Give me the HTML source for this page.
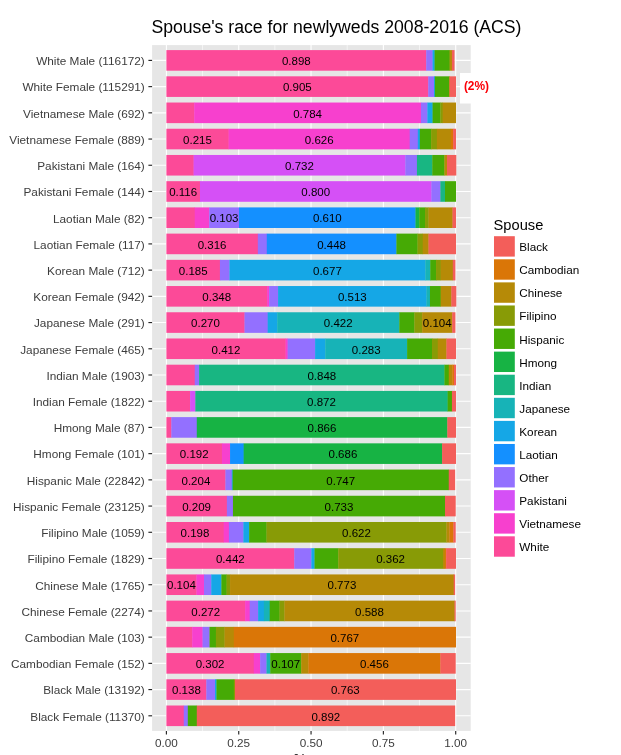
<!DOCTYPE html>
<html lang="en"><head><meta charset="utf-8"><title>Spouse's race for newlyweds 2008-2016 (ACS)</title>
<style>
html,body{margin:0;padding:0;background:#fff;}
body{width:621px;height:755px;overflow:hidden;}
svg{display:block;will-change:transform;font-family:"Liberation Sans",Arial,Helvetica,sans-serif;}
.yl{font-size:11.8px;fill:#3C3C3C;text-anchor:end;}
.xl{font-size:11.73px;fill:#3C3C3C;text-anchor:middle;}
.bl{font-size:11.5px;fill:#000;text-anchor:middle;}
.lg{font-size:11.73px;fill:#000;}
</style></head><body>
<svg width="621" height="755" viewBox="0 0 621 755">
<rect x="0" y="0" width="621" height="755" fill="#fff"/>
<text x="151.4" y="32.6" font-size="17.6" fill="#000" textLength="370.1" lengthAdjust="spacingAndGlyphs">Spouse's race for newlyweds 2008-2016 (ACS)</text>
<rect x="152.1" y="45.1" width="318.6" height="685.8" fill="#E6E6E6"/>
<g stroke="#fff" fill="none">
<line x1="202.56" y1="45.1" x2="202.56" y2="730.9" stroke-width="0.6"/>
<line x1="274.89" y1="45.1" x2="274.89" y2="730.9" stroke-width="0.6"/>
<line x1="347.21" y1="45.1" x2="347.21" y2="730.9" stroke-width="0.6"/>
<line x1="419.54" y1="45.1" x2="419.54" y2="730.9" stroke-width="0.6"/>
<line x1="166.40" y1="45.1" x2="166.40" y2="730.9" stroke-width="1.1"/>
<line x1="238.73" y1="45.1" x2="238.73" y2="730.9" stroke-width="1.1"/>
<line x1="311.05" y1="45.1" x2="311.05" y2="730.9" stroke-width="1.1"/>
<line x1="383.38" y1="45.1" x2="383.38" y2="730.9" stroke-width="1.1"/>
<line x1="455.70" y1="45.1" x2="455.70" y2="730.9" stroke-width="1.1"/>
<line x1="152.1" y1="60.40" x2="470.7" y2="60.40" stroke-width="1.1"/>
<line x1="152.1" y1="86.62" x2="470.7" y2="86.62" stroke-width="1.1"/>
<line x1="152.1" y1="112.83" x2="470.7" y2="112.83" stroke-width="1.1"/>
<line x1="152.1" y1="139.05" x2="470.7" y2="139.05" stroke-width="1.1"/>
<line x1="152.1" y1="165.26" x2="470.7" y2="165.26" stroke-width="1.1"/>
<line x1="152.1" y1="191.48" x2="470.7" y2="191.48" stroke-width="1.1"/>
<line x1="152.1" y1="217.70" x2="470.7" y2="217.70" stroke-width="1.1"/>
<line x1="152.1" y1="243.91" x2="470.7" y2="243.91" stroke-width="1.1"/>
<line x1="152.1" y1="270.13" x2="470.7" y2="270.13" stroke-width="1.1"/>
<line x1="152.1" y1="296.34" x2="470.7" y2="296.34" stroke-width="1.1"/>
<line x1="152.1" y1="322.56" x2="470.7" y2="322.56" stroke-width="1.1"/>
<line x1="152.1" y1="348.78" x2="470.7" y2="348.78" stroke-width="1.1"/>
<line x1="152.1" y1="374.99" x2="470.7" y2="374.99" stroke-width="1.1"/>
<line x1="152.1" y1="401.21" x2="470.7" y2="401.21" stroke-width="1.1"/>
<line x1="152.1" y1="427.42" x2="470.7" y2="427.42" stroke-width="1.1"/>
<line x1="152.1" y1="453.64" x2="470.7" y2="453.64" stroke-width="1.1"/>
<line x1="152.1" y1="479.86" x2="470.7" y2="479.86" stroke-width="1.1"/>
<line x1="152.1" y1="506.07" x2="470.7" y2="506.07" stroke-width="1.1"/>
<line x1="152.1" y1="532.29" x2="470.7" y2="532.29" stroke-width="1.1"/>
<line x1="152.1" y1="558.50" x2="470.7" y2="558.50" stroke-width="1.1"/>
<line x1="152.1" y1="584.72" x2="470.7" y2="584.72" stroke-width="1.1"/>
<line x1="152.1" y1="610.94" x2="470.7" y2="610.94" stroke-width="1.1"/>
<line x1="152.1" y1="637.15" x2="470.7" y2="637.15" stroke-width="1.1"/>
<line x1="152.1" y1="663.37" x2="470.7" y2="663.37" stroke-width="1.1"/>
<line x1="152.1" y1="689.58" x2="470.7" y2="689.58" stroke-width="1.1"/>
<line x1="152.1" y1="715.80" x2="470.7" y2="715.80" stroke-width="1.1"/>
</g>
<g>
<rect x="166.40" y="50.10" width="260.09" height="20.60" fill="#FC4A98"/>
<rect x="426.19" y="50.10" width="6.66" height="20.60" fill="#9370FF"/>
<rect x="432.56" y="50.10" width="2.33" height="20.60" fill="#15A7E6"/>
<rect x="434.58" y="50.10" width="15.34" height="20.60" fill="#46AA05"/>
<rect x="449.62" y="50.10" width="2.61" height="20.60" fill="#B68A07"/>
<rect x="451.94" y="50.10" width="2.61" height="20.60" fill="#F35E5A"/>
<rect x="166.40" y="76.32" width="262.12" height="20.60" fill="#FC4A98"/>
<rect x="428.22" y="76.32" width="6.09" height="20.60" fill="#9370FF"/>
<rect x="434.00" y="76.32" width="1.17" height="20.60" fill="#15A7E6"/>
<rect x="434.87" y="76.32" width="14.48" height="20.60" fill="#46AA05"/>
<rect x="449.05" y="76.32" width="0.88" height="20.60" fill="#B68A07"/>
<rect x="449.62" y="76.32" width="6.38" height="20.60" fill="#F35E5A"/>
<rect x="166.40" y="102.53" width="28.07" height="20.60" fill="#FC4A98"/>
<rect x="194.17" y="102.53" width="227.11" height="20.60" fill="#F740CE"/>
<rect x="420.98" y="102.53" width="6.66" height="20.60" fill="#9370FF"/>
<rect x="427.35" y="102.53" width="5.51" height="20.60" fill="#15A7E6"/>
<rect x="432.56" y="102.53" width="8.11" height="20.60" fill="#46AA05"/>
<rect x="440.37" y="102.53" width="2.61" height="20.60" fill="#889B06"/>
<rect x="442.68" y="102.53" width="13.32" height="20.60" fill="#B68A07"/>
<rect x="166.40" y="128.75" width="62.50" height="20.60" fill="#FC4A98"/>
<rect x="228.60" y="128.75" width="181.40" height="20.60" fill="#F740CE"/>
<rect x="409.70" y="128.75" width="8.40" height="20.60" fill="#9370FF"/>
<rect x="417.80" y="128.75" width="2.33" height="20.60" fill="#15A7E6"/>
<rect x="419.83" y="128.75" width="11.58" height="20.60" fill="#46AA05"/>
<rect x="431.11" y="128.75" width="6.09" height="20.60" fill="#889B06"/>
<rect x="436.90" y="128.75" width="14.19" height="20.60" fill="#B68A07"/>
<rect x="450.78" y="128.75" width="2.61" height="20.60" fill="#DA7607"/>
<rect x="453.10" y="128.75" width="2.90" height="20.60" fill="#F35E5A"/>
<rect x="166.40" y="154.96" width="27.49" height="20.60" fill="#FC4A98"/>
<rect x="193.59" y="154.96" width="212.07" height="20.60" fill="#D550F6"/>
<rect x="405.36" y="154.96" width="11.87" height="20.60" fill="#9370FF"/>
<rect x="416.93" y="154.96" width="15.63" height="20.60" fill="#18B682"/>
<rect x="432.27" y="154.96" width="12.45" height="20.60" fill="#46AA05"/>
<rect x="444.42" y="154.96" width="2.90" height="20.60" fill="#B68A07"/>
<rect x="447.02" y="154.96" width="9.27" height="20.60" fill="#F35E5A"/>
<rect x="166.40" y="181.18" width="33.86" height="20.60" fill="#FC4A98"/>
<rect x="199.96" y="181.18" width="231.74" height="20.60" fill="#D550F6"/>
<rect x="431.40" y="181.18" width="9.27" height="20.60" fill="#9370FF"/>
<rect x="440.37" y="181.18" width="4.93" height="20.60" fill="#18B682"/>
<rect x="445.00" y="181.18" width="11.00" height="20.60" fill="#46AA05"/>
<rect x="166.40" y="207.40" width="28.65" height="20.60" fill="#FC4A98"/>
<rect x="194.75" y="207.40" width="14.77" height="20.60" fill="#F740CE"/>
<rect x="209.22" y="207.40" width="30.10" height="20.60" fill="#9370FF"/>
<rect x="239.01" y="207.40" width="176.77" height="20.60" fill="#1490FF"/>
<rect x="415.49" y="207.40" width="4.06" height="20.60" fill="#17B344"/>
<rect x="419.25" y="207.40" width="6.09" height="20.60" fill="#46AA05"/>
<rect x="425.03" y="207.40" width="3.77" height="20.60" fill="#889B06"/>
<rect x="428.51" y="207.40" width="24.31" height="20.60" fill="#B68A07"/>
<rect x="452.52" y="207.40" width="3.48" height="20.60" fill="#F35E5A"/>
<rect x="166.40" y="233.61" width="91.72" height="20.60" fill="#FC4A98"/>
<rect x="257.82" y="233.61" width="9.27" height="20.60" fill="#9370FF"/>
<rect x="266.79" y="233.61" width="129.91" height="20.60" fill="#1490FF"/>
<rect x="396.39" y="233.61" width="21.42" height="20.60" fill="#46AA05"/>
<rect x="417.51" y="233.61" width="5.51" height="20.60" fill="#889B06"/>
<rect x="422.72" y="233.61" width="6.09" height="20.60" fill="#B68A07"/>
<rect x="428.51" y="233.61" width="27.49" height="20.60" fill="#F35E5A"/>
<rect x="166.40" y="259.83" width="53.82" height="20.60" fill="#FC4A98"/>
<rect x="219.92" y="259.83" width="9.85" height="20.60" fill="#9370FF"/>
<rect x="229.47" y="259.83" width="196.16" height="20.60" fill="#15A7E6"/>
<rect x="425.32" y="259.83" width="5.22" height="20.60" fill="#17B3B7"/>
<rect x="430.24" y="259.83" width="6.09" height="20.60" fill="#46AA05"/>
<rect x="436.03" y="259.83" width="4.93" height="20.60" fill="#889B06"/>
<rect x="440.66" y="259.83" width="12.45" height="20.60" fill="#B68A07"/>
<rect x="452.81" y="259.83" width="2.61" height="20.60" fill="#F35E5A"/>
<rect x="166.40" y="286.04" width="100.98" height="20.60" fill="#FC4A98"/>
<rect x="267.08" y="286.04" width="2.33" height="20.60" fill="#F740CE"/>
<rect x="269.10" y="286.04" width="9.27" height="20.60" fill="#9370FF"/>
<rect x="278.07" y="286.04" width="148.71" height="20.60" fill="#15A7E6"/>
<rect x="426.48" y="286.04" width="3.77" height="20.60" fill="#17B3B7"/>
<rect x="429.95" y="286.04" width="11.00" height="20.60" fill="#46AA05"/>
<rect x="440.66" y="286.04" width="11.00" height="20.60" fill="#B68A07"/>
<rect x="451.36" y="286.04" width="4.93" height="20.60" fill="#F35E5A"/>
<rect x="166.40" y="312.26" width="78.41" height="20.60" fill="#FC4A98"/>
<rect x="244.51" y="312.26" width="23.44" height="20.60" fill="#9370FF"/>
<rect x="267.66" y="312.26" width="9.85" height="20.60" fill="#15A7E6"/>
<rect x="277.20" y="312.26" width="122.38" height="20.60" fill="#17B3B7"/>
<rect x="399.29" y="312.26" width="15.34" height="20.60" fill="#46AA05"/>
<rect x="414.33" y="312.26" width="8.11" height="20.60" fill="#889B06"/>
<rect x="422.14" y="312.26" width="30.39" height="20.60" fill="#B68A07"/>
<rect x="452.23" y="312.26" width="3.19" height="20.60" fill="#F35E5A"/>
<rect x="166.40" y="338.48" width="119.49" height="20.60" fill="#FC4A98"/>
<rect x="285.59" y="338.48" width="2.33" height="20.60" fill="#F740CE"/>
<rect x="287.62" y="338.48" width="27.78" height="20.60" fill="#9370FF"/>
<rect x="315.10" y="338.48" width="10.43" height="20.60" fill="#15A7E6"/>
<rect x="325.23" y="338.48" width="82.17" height="20.60" fill="#17B3B7"/>
<rect x="407.10" y="338.48" width="25.18" height="20.60" fill="#46AA05"/>
<rect x="431.98" y="338.48" width="6.09" height="20.60" fill="#889B06"/>
<rect x="437.76" y="338.48" width="8.98" height="20.60" fill="#B68A07"/>
<rect x="446.44" y="338.48" width="9.56" height="20.60" fill="#F35E5A"/>
<rect x="166.40" y="364.69" width="28.65" height="20.60" fill="#FC4A98"/>
<rect x="194.75" y="364.69" width="4.64" height="20.60" fill="#9370FF"/>
<rect x="199.09" y="364.69" width="245.63" height="20.60" fill="#18B682"/>
<rect x="444.42" y="364.69" width="4.64" height="20.60" fill="#46AA05"/>
<rect x="448.76" y="364.69" width="3.77" height="20.60" fill="#B68A07"/>
<rect x="452.23" y="364.69" width="2.04" height="20.60" fill="#DA7607"/>
<rect x="453.96" y="364.69" width="2.04" height="20.60" fill="#F35E5A"/>
<rect x="166.40" y="390.91" width="24.02" height="20.60" fill="#FC4A98"/>
<rect x="190.12" y="390.91" width="5.51" height="20.60" fill="#D550F6"/>
<rect x="195.33" y="390.91" width="252.57" height="20.60" fill="#18B682"/>
<rect x="447.60" y="390.91" width="4.64" height="20.60" fill="#46AA05"/>
<rect x="451.94" y="390.91" width="4.06" height="20.60" fill="#F35E5A"/>
<rect x="166.40" y="417.12" width="5.22" height="20.60" fill="#FC4A98"/>
<rect x="171.32" y="417.12" width="25.76" height="20.60" fill="#9370FF"/>
<rect x="196.78" y="417.12" width="250.83" height="20.60" fill="#17B344"/>
<rect x="447.31" y="417.12" width="8.69" height="20.60" fill="#F35E5A"/>
<rect x="166.40" y="443.34" width="55.85" height="20.60" fill="#FC4A98"/>
<rect x="221.95" y="443.34" width="8.40" height="20.60" fill="#F740CE"/>
<rect x="230.05" y="443.34" width="13.90" height="20.60" fill="#1490FF"/>
<rect x="243.64" y="443.34" width="198.76" height="20.60" fill="#17B344"/>
<rect x="442.10" y="443.34" width="13.90" height="20.60" fill="#F35E5A"/>
<rect x="166.40" y="469.56" width="59.32" height="20.60" fill="#FC4A98"/>
<rect x="225.42" y="469.56" width="6.66" height="20.60" fill="#9370FF"/>
<rect x="231.78" y="469.56" width="1.17" height="20.60" fill="#15A7E6"/>
<rect x="232.65" y="469.56" width="216.41" height="20.60" fill="#46AA05"/>
<rect x="448.76" y="469.56" width="6.38" height="20.60" fill="#F35E5A"/>
<rect x="166.40" y="495.77" width="60.76" height="20.60" fill="#FC4A98"/>
<rect x="226.86" y="495.77" width="6.38" height="20.60" fill="#9370FF"/>
<rect x="232.94" y="495.77" width="212.36" height="20.60" fill="#46AA05"/>
<rect x="445.00" y="495.77" width="10.71" height="20.60" fill="#F35E5A"/>
<rect x="166.40" y="521.99" width="57.58" height="20.60" fill="#FC4A98"/>
<rect x="223.68" y="521.99" width="5.51" height="20.60" fill="#F740CE"/>
<rect x="228.89" y="521.99" width="14.77" height="20.60" fill="#9370FF"/>
<rect x="243.35" y="521.99" width="6.09" height="20.60" fill="#15A7E6"/>
<rect x="249.14" y="521.99" width="17.66" height="20.60" fill="#46AA05"/>
<rect x="266.50" y="521.99" width="180.24" height="20.60" fill="#889B06"/>
<rect x="446.44" y="521.99" width="3.19" height="20.60" fill="#B68A07"/>
<rect x="449.34" y="521.99" width="4.35" height="20.60" fill="#DA7607"/>
<rect x="453.39" y="521.99" width="2.33" height="20.60" fill="#F35E5A"/>
<rect x="166.40" y="548.20" width="128.17" height="20.60" fill="#FC4A98"/>
<rect x="294.27" y="548.20" width="17.37" height="20.60" fill="#9370FF"/>
<rect x="311.34" y="548.20" width="3.48" height="20.60" fill="#15A7E6"/>
<rect x="314.52" y="548.20" width="24.02" height="20.60" fill="#46AA05"/>
<rect x="338.24" y="548.20" width="105.03" height="20.60" fill="#889B06"/>
<rect x="442.97" y="548.20" width="2.04" height="20.60" fill="#B68A07"/>
<rect x="444.71" y="548.20" width="1.75" height="20.60" fill="#DA7607"/>
<rect x="446.15" y="548.20" width="9.85" height="20.60" fill="#F35E5A"/>
<rect x="166.40" y="574.42" width="30.39" height="20.60" fill="#FC4A98"/>
<rect x="196.49" y="574.42" width="7.82" height="20.60" fill="#F740CE"/>
<rect x="204.01" y="574.42" width="7.53" height="20.60" fill="#9370FF"/>
<rect x="211.24" y="574.42" width="10.43" height="20.60" fill="#15A7E6"/>
<rect x="221.37" y="574.42" width="5.51" height="20.60" fill="#46AA05"/>
<rect x="226.57" y="574.42" width="3.77" height="20.60" fill="#889B06"/>
<rect x="230.05" y="574.42" width="223.93" height="20.60" fill="#B68A07"/>
<rect x="453.67" y="574.42" width="1.46" height="20.60" fill="#F35E5A"/>
<rect x="166.40" y="600.64" width="78.99" height="20.60" fill="#FC4A98"/>
<rect x="245.09" y="600.64" width="4.93" height="20.60" fill="#F740CE"/>
<rect x="249.72" y="600.64" width="8.69" height="20.60" fill="#9370FF"/>
<rect x="258.11" y="600.64" width="6.09" height="20.60" fill="#15A7E6"/>
<rect x="263.89" y="600.64" width="6.09" height="20.60" fill="#17B3B7"/>
<rect x="269.68" y="600.64" width="10.14" height="20.60" fill="#46AA05"/>
<rect x="279.52" y="600.64" width="5.22" height="20.60" fill="#889B06"/>
<rect x="284.43" y="600.64" width="170.41" height="20.60" fill="#B68A07"/>
<rect x="454.54" y="600.64" width="1.17" height="20.60" fill="#F35E5A"/>
<rect x="166.40" y="626.85" width="26.05" height="20.60" fill="#FC4A98"/>
<rect x="192.15" y="626.85" width="10.71" height="20.60" fill="#F740CE"/>
<rect x="202.56" y="626.85" width="7.24" height="20.60" fill="#9370FF"/>
<rect x="209.51" y="626.85" width="6.66" height="20.60" fill="#46AA05"/>
<rect x="215.87" y="626.85" width="8.98" height="20.60" fill="#889B06"/>
<rect x="224.55" y="626.85" width="9.56" height="20.60" fill="#B68A07"/>
<rect x="233.81" y="626.85" width="222.19" height="20.60" fill="#DA7607"/>
<rect x="166.40" y="653.07" width="87.67" height="20.60" fill="#FC4A98"/>
<rect x="253.77" y="653.07" width="6.66" height="20.60" fill="#F740CE"/>
<rect x="260.13" y="653.07" width="6.66" height="20.60" fill="#9370FF"/>
<rect x="266.50" y="653.07" width="4.06" height="20.60" fill="#17B3B7"/>
<rect x="270.26" y="653.07" width="31.26" height="20.60" fill="#46AA05"/>
<rect x="301.21" y="653.07" width="7.53" height="20.60" fill="#B68A07"/>
<rect x="308.45" y="653.07" width="132.22" height="20.60" fill="#DA7607"/>
<rect x="440.37" y="653.07" width="15.34" height="20.60" fill="#F35E5A"/>
<rect x="166.40" y="679.28" width="40.22" height="20.60" fill="#FC4A98"/>
<rect x="206.32" y="679.28" width="8.98" height="20.60" fill="#9370FF"/>
<rect x="215.00" y="679.28" width="1.75" height="20.60" fill="#15A7E6"/>
<rect x="216.45" y="679.28" width="17.66" height="20.60" fill="#46AA05"/>
<rect x="233.81" y="679.28" width="1.46" height="20.60" fill="#889B06"/>
<rect x="234.96" y="679.28" width="221.04" height="20.60" fill="#F35E5A"/>
<rect x="166.40" y="705.50" width="17.66" height="20.60" fill="#FC4A98"/>
<rect x="183.76" y="705.50" width="4.35" height="20.60" fill="#9370FF"/>
<rect x="187.81" y="705.50" width="9.27" height="20.60" fill="#46AA05"/>
<rect x="196.78" y="705.50" width="258.36" height="20.60" fill="#F35E5A"/>
</g>
<g class="bl">
<text x="296.3" y="65.1">0.898</text>
<text x="297.3" y="91.3">0.905</text>
<text x="307.6" y="117.5">0.784</text>
<text x="197.5" y="143.7">0.215</text>
<text x="319.2" y="143.7">0.626</text>
<text x="299.5" y="170.0">0.732</text>
<text x="183.2" y="196.2">0.116</text>
<text x="315.7" y="196.2">0.800</text>
<text x="224.1" y="222.4">0.103</text>
<text x="327.3" y="222.4">0.610</text>
<text x="212.1" y="248.6">0.316</text>
<text x="331.6" y="248.6">0.448</text>
<text x="193.2" y="274.8">0.185</text>
<text x="327.4" y="274.8">0.677</text>
<text x="216.7" y="301.0">0.348</text>
<text x="352.3" y="301.0">0.513</text>
<text x="205.5" y="327.3">0.270</text>
<text x="338.2" y="327.3">0.422</text>
<text x="437.2" y="327.3">0.104</text>
<text x="226.0" y="353.5">0.412</text>
<text x="366.2" y="353.5">0.283</text>
<text x="321.8" y="379.7">0.848</text>
<text x="321.5" y="405.9">0.872</text>
<text x="322.0" y="432.1">0.866</text>
<text x="194.2" y="458.3">0.192</text>
<text x="342.9" y="458.3">0.686</text>
<text x="195.9" y="484.6">0.204</text>
<text x="340.7" y="484.6">0.747</text>
<text x="196.6" y="510.8">0.209</text>
<text x="339.0" y="510.8">0.733</text>
<text x="195.0" y="537.0">0.198</text>
<text x="356.5" y="537.0">0.622</text>
<text x="230.3" y="563.2">0.442</text>
<text x="390.6" y="563.2">0.362</text>
<text x="181.4" y="589.4">0.104</text>
<text x="341.9" y="589.4">0.773</text>
<text x="205.7" y="615.6">0.272</text>
<text x="369.5" y="615.6">0.588</text>
<text x="344.8" y="641.9">0.767</text>
<text x="210.1" y="668.1">0.302</text>
<text x="285.7" y="668.1">0.107</text>
<text x="374.4" y="668.1">0.456</text>
<text x="186.4" y="694.3">0.138</text>
<text x="345.3" y="694.3">0.763</text>
<text x="325.8" y="720.5">0.892</text>
</g>
<rect x="460" y="73" width="60" height="30.5" fill="#fff"/>
<text x="463.9" y="89.7" font-size="12.5" font-weight="bold" fill="#FB0007" textLength="25.2" lengthAdjust="spacingAndGlyphs">(2%)</text>
<g stroke="#262626" stroke-width="1.15">
<line x1="148.4" y1="60.40" x2="152.1" y2="60.40"/>
<line x1="148.4" y1="86.62" x2="152.1" y2="86.62"/>
<line x1="148.4" y1="112.83" x2="152.1" y2="112.83"/>
<line x1="148.4" y1="139.05" x2="152.1" y2="139.05"/>
<line x1="148.4" y1="165.26" x2="152.1" y2="165.26"/>
<line x1="148.4" y1="191.48" x2="152.1" y2="191.48"/>
<line x1="148.4" y1="217.70" x2="152.1" y2="217.70"/>
<line x1="148.4" y1="243.91" x2="152.1" y2="243.91"/>
<line x1="148.4" y1="270.13" x2="152.1" y2="270.13"/>
<line x1="148.4" y1="296.34" x2="152.1" y2="296.34"/>
<line x1="148.4" y1="322.56" x2="152.1" y2="322.56"/>
<line x1="148.4" y1="348.78" x2="152.1" y2="348.78"/>
<line x1="148.4" y1="374.99" x2="152.1" y2="374.99"/>
<line x1="148.4" y1="401.21" x2="152.1" y2="401.21"/>
<line x1="148.4" y1="427.42" x2="152.1" y2="427.42"/>
<line x1="148.4" y1="453.64" x2="152.1" y2="453.64"/>
<line x1="148.4" y1="479.86" x2="152.1" y2="479.86"/>
<line x1="148.4" y1="506.07" x2="152.1" y2="506.07"/>
<line x1="148.4" y1="532.29" x2="152.1" y2="532.29"/>
<line x1="148.4" y1="558.50" x2="152.1" y2="558.50"/>
<line x1="148.4" y1="584.72" x2="152.1" y2="584.72"/>
<line x1="148.4" y1="610.94" x2="152.1" y2="610.94"/>
<line x1="148.4" y1="637.15" x2="152.1" y2="637.15"/>
<line x1="148.4" y1="663.37" x2="152.1" y2="663.37"/>
<line x1="148.4" y1="689.58" x2="152.1" y2="689.58"/>
<line x1="148.4" y1="715.80" x2="152.1" y2="715.80"/>
<line x1="166.40" y1="730.9" x2="166.40" y2="734.6"/>
<line x1="238.73" y1="730.9" x2="238.73" y2="734.6"/>
<line x1="311.05" y1="730.9" x2="311.05" y2="734.6"/>
<line x1="383.38" y1="730.9" x2="383.38" y2="734.6"/>
<line x1="455.70" y1="730.9" x2="455.70" y2="734.6"/>
</g>
<g class="yl">
<text x="144.8" y="65.2">White Male (116172)</text>
<text x="144.8" y="91.4">White Female (115291)</text>
<text x="144.8" y="117.6">Vietnamese Male (692)</text>
<text x="144.8" y="143.8">Vietnamese Female (889)</text>
<text x="144.8" y="170.1">Pakistani Male (164)</text>
<text x="144.8" y="196.3">Pakistani Female (144)</text>
<text x="144.8" y="222.5">Laotian Male (82)</text>
<text x="144.8" y="248.7">Laotian Female (117)</text>
<text x="144.8" y="274.9">Korean Male (712)</text>
<text x="144.8" y="301.1">Korean Female (942)</text>
<text x="144.8" y="327.4">Japanese Male (291)</text>
<text x="144.8" y="353.6">Japanese Female (465)</text>
<text x="144.8" y="379.8">Indian Male (1903)</text>
<text x="144.8" y="406.0">Indian Female (1822)</text>
<text x="144.8" y="432.2">Hmong Male (87)</text>
<text x="144.8" y="458.4">Hmong Female (101)</text>
<text x="144.8" y="484.7">Hispanic Male (22842)</text>
<text x="144.8" y="510.9">Hispanic Female (23125)</text>
<text x="144.8" y="537.1">Filipino Male (1059)</text>
<text x="144.8" y="563.3">Filipino Female (1829)</text>
<text x="144.8" y="589.5">Chinese Male (1765)</text>
<text x="144.8" y="615.7">Chinese Female (2274)</text>
<text x="144.8" y="642.0">Cambodian Male (103)</text>
<text x="144.8" y="668.2">Cambodian Female (152)</text>
<text x="144.8" y="694.4">Black Male (13192)</text>
<text x="144.8" y="720.6">Black Female (11370)</text>
</g>
<g class="xl">
<text x="166.4" y="746.8">0.00</text>
<text x="238.7" y="746.8">0.25</text>
<text x="311.1" y="746.8">0.50</text>
<text x="383.4" y="746.8">0.75</text>
<text x="455.7" y="746.8">1.00</text>
</g>
<text x="293.5" y="764.1" font-size="14.67" fill="#000">%</text>
<text x="493.6" y="229.6" font-size="14.67" fill="#000">Spouse</text>
<g>
<rect x="494.0" y="236.20" width="20.8" height="20.4" fill="#F35E5A"/>
<rect x="494.0" y="259.29" width="20.8" height="20.4" fill="#DA7607"/>
<rect x="494.0" y="282.37" width="20.8" height="20.4" fill="#B68A07"/>
<rect x="494.0" y="305.46" width="20.8" height="20.4" fill="#889B06"/>
<rect x="494.0" y="328.54" width="20.8" height="20.4" fill="#46AA05"/>
<rect x="494.0" y="351.62" width="20.8" height="20.4" fill="#17B344"/>
<rect x="494.0" y="374.71" width="20.8" height="20.4" fill="#18B682"/>
<rect x="494.0" y="397.80" width="20.8" height="20.4" fill="#17B3B7"/>
<rect x="494.0" y="420.88" width="20.8" height="20.4" fill="#15A7E6"/>
<rect x="494.0" y="443.97" width="20.8" height="20.4" fill="#1490FF"/>
<rect x="494.0" y="467.05" width="20.8" height="20.4" fill="#9370FF"/>
<rect x="494.0" y="490.13" width="20.8" height="20.4" fill="#D550F6"/>
<rect x="494.0" y="513.22" width="20.8" height="20.4" fill="#F740CE"/>
<rect x="494.0" y="536.31" width="20.8" height="20.4" fill="#FC4A98"/>
</g>
<g class="lg">
<text x="519.3" y="251.3">Black</text>
<text x="519.3" y="274.3">Cambodian</text>
<text x="519.3" y="297.4">Chinese</text>
<text x="519.3" y="320.4">Filipino</text>
<text x="519.3" y="343.5">Hispanic</text>
<text x="519.3" y="366.5">Hmong</text>
<text x="519.3" y="389.5">Indian</text>
<text x="519.3" y="412.6">Japanese</text>
<text x="519.3" y="435.6">Korean</text>
<text x="519.3" y="458.7">Laotian</text>
<text x="519.3" y="481.7">Other</text>
<text x="519.3" y="504.7">Pakistani</text>
<text x="519.3" y="527.8">Vietnamese</text>
<text x="519.3" y="550.8">White</text>
</g>
</svg>
</body></html>
